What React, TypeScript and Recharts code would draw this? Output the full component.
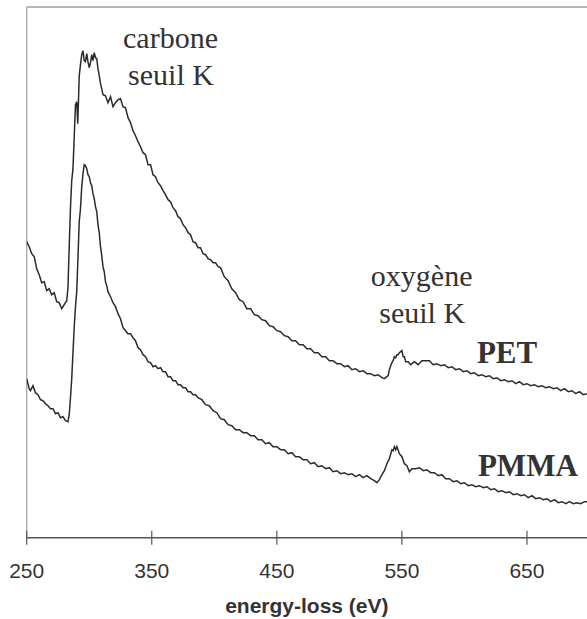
import { LineChart, Line, XAxis, YAxis, ReferenceLine, ReferenceDot } from 'recharts'

// EELS spectra, intensity in arbitrary units
const petEv = [250, 252, 254, 256, 258, 260, 262, 264, 266, 268, 270, 272, 274, 276, 278, 280, 282, 283, 284, 285, 286, 287, 288, 289, 290, 290.8, 291.5, 292, 293, 294, 295, 296, 297, 298, 299, 300, 301, 302, 303, 304, 305, 306, 307, 308, 309, 310, 311, 313, 315, 317, 319, 321, 323, 325, 327, 329, 331, 333, 335, 337, 339, 341, 343, 345, 347, 349, 351, 353, 355, 357, 359, 361, 363, 365, 367, 369, 371, 373, 375, 377, 379, 381, 383, 385, 387, 389, 391, 393, 395, 397, 399, 401, 403, 405, 408, 411, 414, 417, 420, 423, 426, 429, 432, 435, 438, 441, 444, 447, 450, 453, 456, 459, 462, 465, 468, 471, 474, 477, 480, 483, 486, 489, 492, 495, 498, 501, 504, 507, 510, 513, 516, 519, 522, 525, 528, 531, 534, 536, 538, 539, 540, 541, 542, 543, 544, 545, 546, 547, 548, 549, 550, 551, 552, 553, 555, 557, 560, 563, 566, 569, 572, 575, 578, 581, 584, 587, 590, 593, 596, 599, 602, 605, 608, 611, 614, 617, 620, 623, 626, 629, 632, 635, 638, 641, 644, 647, 650, 653, 656, 659, 662, 665, 668, 671, 674, 677, 680, 683, 686, 689, 692, 695, 698]
const petCounts = [296, 291, 284, 281, 269, 263, 255, 256, 247, 249, 243, 245, 236, 235, 229, 233, 237, 250, 292, 330, 357, 369, 401, 433, 436, 414, 441, 462, 473, 483, 487, 477, 476, 484, 476, 470, 475, 483, 477, 485, 480, 479, 469, 462, 454, 449, 443, 442, 435, 441, 431, 435, 438, 439, 431, 430, 420, 415, 407, 402, 396, 391, 385, 383, 373, 373, 363, 361, 355, 352, 347, 343, 338, 336, 330, 327, 321, 319, 313, 310, 305, 303, 296, 295, 290, 290, 284, 283, 279, 278, 275, 275, 271, 270, 261, 257, 249, 245, 238, 236, 229, 229, 223, 222, 218, 217, 212, 211, 207, 206, 202, 201, 197, 197, 193, 193, 189, 189, 185, 185, 181, 181, 177, 177, 174, 174, 171, 172, 168, 169, 166, 167, 164, 164, 162, 163, 160, 159, 161, 162, 168, 172, 175, 177, 181, 180, 183, 183, 185, 186, 187, 181, 181, 176, 176, 173, 176, 173, 177, 177, 177, 173, 174, 172, 173, 170, 171, 168, 169, 166, 167, 164, 165, 162, 163, 161, 162, 159, 160, 157, 158, 156, 157, 154, 156, 153, 154, 152, 153, 151, 152, 150, 151, 149, 150, 147, 149, 146, 147, 144, 146, 143, 144]

const pmmaEv = [250, 252, 253, 255, 257, 259, 261, 263, 265, 267, 269, 271, 273, 275, 277, 279, 281, 283, 284, 285, 286, 287, 288, 289, 290, 291, 292, 293, 294, 295, 296, 297, 298, 299, 300, 301, 302, 303, 304, 305, 306, 307, 308, 309, 310, 311, 312, 313, 314, 315, 317, 319, 321, 323, 325, 327, 329, 331, 333, 335, 337, 339, 341, 343, 345, 347, 349, 351, 353, 355, 357, 359, 361, 363, 365, 367, 369, 371, 373, 375, 377, 379, 381, 383, 385, 387, 390, 393, 396, 399, 402, 405, 408, 411, 414, 417, 420, 423, 426, 429, 432, 435, 438, 441, 444, 447, 450, 453, 456, 459, 462, 465, 468, 471, 474, 477, 480, 483, 486, 489, 492, 495, 498, 501, 504, 507, 510, 513, 516, 519, 522, 525, 528, 530, 532, 534, 536, 538, 540, 542, 543, 544, 545, 546, 548, 550, 552, 554, 556, 558, 561, 564, 567, 570, 573, 576, 579, 582, 585, 588, 591, 594, 597, 600, 603, 606, 609, 612, 615, 618, 621, 624, 627, 630, 633, 636, 639, 642, 645, 648, 651, 654, 657, 660, 663, 666, 669, 672, 675, 678, 681, 684, 687, 690, 693, 696, 698]
const pmmaCounts = [159, 149, 147, 152, 145, 143, 138, 137, 134, 132, 129, 129, 124, 125, 120, 121, 117, 116, 123, 140, 159, 185, 211, 231, 246, 280, 316, 329, 351, 364, 373, 372, 369, 363, 361, 355, 352, 344, 339, 331, 326, 313, 305, 291, 282, 271, 266, 256, 252, 246, 241, 235, 231, 224, 219, 210, 207, 204, 204, 200, 197, 190, 188, 183, 181, 176, 175, 171, 172, 169, 170, 166, 166, 161, 161, 157, 157, 153, 153, 150, 150, 146, 146, 143, 143, 140, 138, 133, 132, 127, 125, 119, 118, 113, 112, 108, 108, 105, 105, 102, 102, 98, 98, 94, 95, 91, 91, 88, 88, 84, 85, 81, 81, 78, 78, 74, 75, 71, 72, 69, 70, 66, 67, 64, 65, 63, 64, 61, 63, 60, 62, 59, 57, 55, 58, 63, 67, 74, 79, 88, 87, 91, 88, 91, 84, 81, 74, 72, 66, 69, 69, 70, 67, 68, 65, 65, 62, 63, 59, 59, 56, 57, 54, 55, 52, 53, 51, 52, 50, 51, 48, 49, 46, 47, 45, 46, 43, 44, 42, 43, 40, 42, 39, 40, 38, 39, 36, 38, 35, 36, 34, 36, 34, 35, 34, 36, 36]

const xTicks = [250, 350, 450, 550, 650]

// text notes placed in data coordinates
const notes = [
  { ev: 365, y: 489.4, text: 'carbone', bold: false, anchor: 'middle' },
  { ev: 365.4, y: 452.7, text: 'seuil K', bold: false, anchor: 'middle' },
  { ev: 565.8, y: 251.7, text: 'oxygène', bold: false, anchor: 'middle' },
  { ev: 566.2, y: 214.4, text: 'seuil K', bold: false, anchor: 'middle' },
  { ev: 610, y: 174.4, text: 'PET', bold: true, anchor: 'start' },
  { ev: 610.8, y: 61.4, text: 'PMMA', bold: true, anchor: 'start' },
]

const pet = petEv.map((ev, i) => ({ ev, counts: petCounts[i] }))
const pmma = pmmaEv.map((ev, i) => ({ ev, counts: pmmaCounts[i] }))

const sans = '"Liberation Sans", Arial, sans-serif'
const serif = '"Liberation Serif", "Times New Roman", serif'

const Tick = (props: any) => {
  const { x, y, payload } = props
  return (
    <g>
      <line x1={x} x2={x} y1={y - 7} y2={y + 7} stroke="#555" strokeWidth={1.2} />
      <text x={x} y={y + 40} textAnchor="middle" fontFamily={sans} fontSize={21} fill="#333">
        {payload.value}
      </text>
    </g>
  )
}

export default function App() {
  return (
    <div style={{ position: 'absolute', left: 0, top: 0, background: '#fff' }}>
      <LineChart width={587} height={619} margin={{ top: 7, right: 0, left: 26.7, bottom: 0 }}>
        <XAxis
          dataKey="ev"
          type="number"
          domain={[250, 698]}
          allowDataOverflow
          ticks={xTicks}
          height={81.3}
          tickSize={0}
          tickMargin={0}
          tickLine={false}
          tick={<Tick />}
          axisLine={{ stroke: '#555', strokeWidth: 1.4 }}
          label={(p: any) => {
            const vb = p.viewBox
            return (
              <text x={vb.x + vb.width / 2} y={vb.y + 75.5} textAnchor="middle" fontFamily={sans} fontWeight="bold" fontSize={21} fill="#333">
                energy-loss (eV)
              </text>
            )
          }}
        />
        <YAxis hide type="number" domain={[0, 530.7]} allowDataOverflow />
        <ReferenceLine y={530.7} stroke="#a39a98" strokeWidth={1.6} />
        <ReferenceLine x={250} stroke="#b3a9a9" strokeWidth={1.4} />
        <Line data={pet} dataKey="counts" stroke="#2b2b2b" strokeWidth={1.5} dot={false} isAnimationActive={false} />
        <Line data={pmma} dataKey="counts" stroke="#2b2b2b" strokeWidth={1.5} dot={false} isAnimationActive={false} />
        {notes.map((n, i) => (
          <ReferenceDot
            key={i}
            x={n.ev}
            y={n.y}
            r={0}
            shape={(p: any) => (
              <text x={p.cx} y={p.cy} textAnchor={n.anchor as any} fontFamily={serif} fontWeight={n.bold ? 'bold' : 'normal'} fontSize={n.bold ? 31 : 30} fill="#333">
                {n.text}
              </text>
            )}
          />
        ))}
      </LineChart>
    </div>
  )
}
